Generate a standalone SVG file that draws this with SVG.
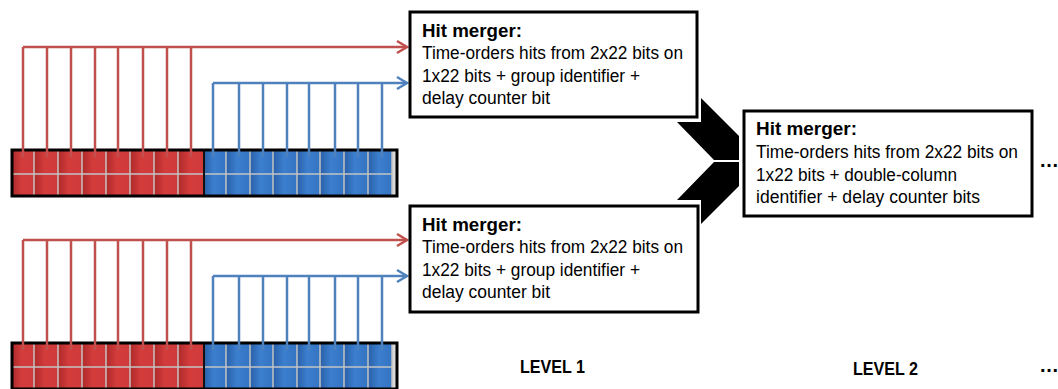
<svg xmlns="http://www.w3.org/2000/svg" width="1058" height="389" viewBox="0 0 1058 389">
<style>
.box{fill:#fff;stroke:#000;stroke-width:3}
.t{font-family:"Liberation Sans",Arial,sans-serif;font-size:18px;fill:#000}
.b{font-weight:bold}
.red{stroke:#c0504d;stroke-width:2.5;fill:none}
.blue{stroke:#4f81bd;stroke-width:2.5;fill:none}
.grid{stroke:#c4c4c4;stroke-width:1.5;fill:none}
.rc{fill:url(#gr)}
.bc{fill:url(#gb)}
</style>
<defs>
<linearGradient id="gr" x1="0" y1="0" x2="1" y2="0">
<stop offset="0" stop-color="#ad2a2a"/><stop offset="0.45" stop-color="#d43c3c"/><stop offset="1" stop-color="#cf3a3a"/>
</linearGradient>
<linearGradient id="gb" x1="0" y1="0" x2="1" y2="0">
<stop offset="0" stop-color="#2a5fa8"/><stop offset="0.45" stop-color="#3b7fce"/><stop offset="1" stop-color="#3474c2"/>
</linearGradient>
<marker id="ar" markerUnits="userSpaceOnUse" markerWidth="14" markerHeight="16" refX="11" refY="7" orient="auto" overflow="visible">
<path d="M1,1 L11,7 L1,13" fill="none" stroke="#c0504d" stroke-width="2.5"/>
</marker>
<marker id="ab" markerUnits="userSpaceOnUse" markerWidth="14" markerHeight="16" refX="11" refY="7" orient="auto" overflow="visible">
<path d="M1,1 L11,7 L1,13" fill="none" stroke="#4f81bd" stroke-width="2.5"/>
</marker>
<g id="regcells">
<rect x="12" y="150" width="385" height="46" fill="#d8d8d8"/>
<rect class="rc" x="12" y="151" width="22" height="23"/><rect class="rc" x="34" y="151" width="24" height="23"/><rect class="rc" x="58" y="151" width="24" height="23"/><rect class="rc" x="82" y="151" width="24" height="23"/><rect class="rc" x="106" y="151" width="24" height="23"/><rect class="rc" x="130" y="151" width="24" height="23"/><rect class="rc" x="154" y="151" width="24" height="23"/><rect class="rc" x="178" y="151" width="26" height="23"/>
<rect class="rc" x="12" y="174" width="22" height="22"/><rect class="rc" x="34" y="174" width="24" height="22"/><rect class="rc" x="58" y="174" width="24" height="22"/><rect class="rc" x="82" y="174" width="24" height="22"/><rect class="rc" x="106" y="174" width="24" height="22"/><rect class="rc" x="130" y="174" width="24" height="22"/><rect class="rc" x="154" y="174" width="24" height="22"/><rect class="rc" x="178" y="174" width="26" height="22"/>
<rect class="bc" x="204" y="151" width="22" height="23"/><rect class="bc" x="226" y="151" width="24" height="23"/><rect class="bc" x="250" y="151" width="23" height="23"/><rect class="bc" x="273" y="151" width="24" height="23"/><rect class="bc" x="297" y="151" width="23" height="23"/><rect class="bc" x="320" y="151" width="24" height="23"/><rect class="bc" x="344" y="151" width="24" height="23"/><rect class="bc" x="368" y="151" width="24" height="23"/>
<rect class="bc" x="204" y="174" width="22" height="22"/><rect class="bc" x="226" y="174" width="24" height="22"/><rect class="bc" x="250" y="174" width="23" height="22"/><rect class="bc" x="273" y="174" width="24" height="22"/><rect class="bc" x="297" y="174" width="23" height="22"/><rect class="bc" x="320" y="174" width="24" height="22"/><rect class="bc" x="344" y="174" width="24" height="22"/><rect class="bc" x="368" y="174" width="24" height="22"/>
<path class="grid" d="M12,174 H392 M34,151 V196 M58,151 V196 M82,151 V196 M106,151 V196 M130,151 V196 M154,151 V196 M178,151 V196 M226,151 V196 M250,151 V196 M273,151 V196 M297,151 V196 M320,151 V196 M344,151 V196 M368,151 V196 M392,151 V196"/>
<line x1="204" y1="150" x2="204" y2="196" stroke="#111" stroke-width="2"/>
<rect x="12" y="150" width="385" height="46" fill="none" stroke="#000" stroke-width="3"/>
</g>
</defs>

<g id="register1"><use href="#regcells"/></g>
<g id="register2"><use href="#regcells" transform="translate(0,193)"/></g>

<g id="connectors">
<path class="red" d="M23,157 V47 M47,157 V47 M71,157 V47 M95,157 V47 M118,157 V47 M143,157 V47 M167,157 V47 M191,157 V47"/>
<path class="red" d="M23,47 H407" marker-end="url(#ar)"/>
<path class="blue" d="M213,157 V83 M239,157 V83 M263,157 V83 M287,157 V83 M309,157 V83 M335,157 V83 M358,157 V83 M382,157 V83"/>
<path class="blue" d="M213,83 H407" marker-end="url(#ab)"/>
<path class="red" d="M23,350 V240 M47,350 V240 M71,350 V240 M95,350 V240 M118,350 V240 M143,350 V240 M167,350 V240 M191,350 V240"/>
<path class="red" d="M23,240 H407" marker-end="url(#ar)"/>
<path class="blue" d="M213,350 V276 M239,350 V276 M263,350 V276 M287,350 V276 M309,350 V276 M335,350 V276 M358,350 V276 M382,350 V276"/>
<path class="blue" d="M213,276 H407" marker-end="url(#ab)"/>
<polygon points="701,98 739,136 739,160 714,160 677,122 701,122" fill="#000"/>
<polygon points="714,162 739,162 739,186 701,224 701,200 677,200" fill="#000"/>
</g>

<g id="merger1">
<rect class="box" x="410" y="12" width="287" height="105"/>
<text class="t b" x="422" y="37" textLength="100" lengthAdjust="spacingAndGlyphs">Hit merger:</text>
<text class="t" x="422" y="59" textLength="261" lengthAdjust="spacingAndGlyphs">Time-orders hits from 2x22 bits on</text>
<text class="t" x="422" y="82" textLength="218" lengthAdjust="spacingAndGlyphs">1x22 bits + group identifier +</text>
<text class="t" x="422" y="104" textLength="128" lengthAdjust="spacingAndGlyphs">delay counter bit</text>
</g>

<g id="merger2">
<rect class="box" x="410" y="206" width="288" height="106"/>
<text class="t b" x="422" y="231" textLength="100" lengthAdjust="spacingAndGlyphs">Hit merger:</text>
<text class="t" x="422" y="253" textLength="261" lengthAdjust="spacingAndGlyphs">Time-orders hits from 2x22 bits on</text>
<text class="t" x="422" y="276" textLength="218" lengthAdjust="spacingAndGlyphs">1x22 bits + group identifier +</text>
<text class="t" x="422" y="298" textLength="128" lengthAdjust="spacingAndGlyphs">delay counter bit</text>
</g>

<g id="merger3">
<rect class="box" x="744" y="111" width="288" height="105"/>
<text class="t b" x="756" y="135" textLength="101" lengthAdjust="spacingAndGlyphs">Hit merger:</text>
<text class="t" x="756" y="158" textLength="262" lengthAdjust="spacingAndGlyphs">Time-orders hits from 2x22 bits on</text>
<text class="t" x="756" y="181" textLength="201" lengthAdjust="spacingAndGlyphs">1x22 bits + double-column</text>
<text class="t" x="756" y="203" textLength="224" lengthAdjust="spacingAndGlyphs">identifier + delay counter bits</text>
</g>

<g id="labels">
<text class="t b" x="1040" y="167" style="font-size:20px" textLength="18" lengthAdjust="spacing">...</text>
<text class="t b" x="1040" y="372" style="font-size:20px" textLength="18" lengthAdjust="spacing">...</text>
<text class="t b" x="520" y="373" style="font-size:18px" textLength="65" lengthAdjust="spacingAndGlyphs">LEVEL 1</text>
<text class="t b" x="853" y="375" style="font-size:18px" textLength="65" lengthAdjust="spacingAndGlyphs">LEVEL 2</text>
</g>
</svg>
